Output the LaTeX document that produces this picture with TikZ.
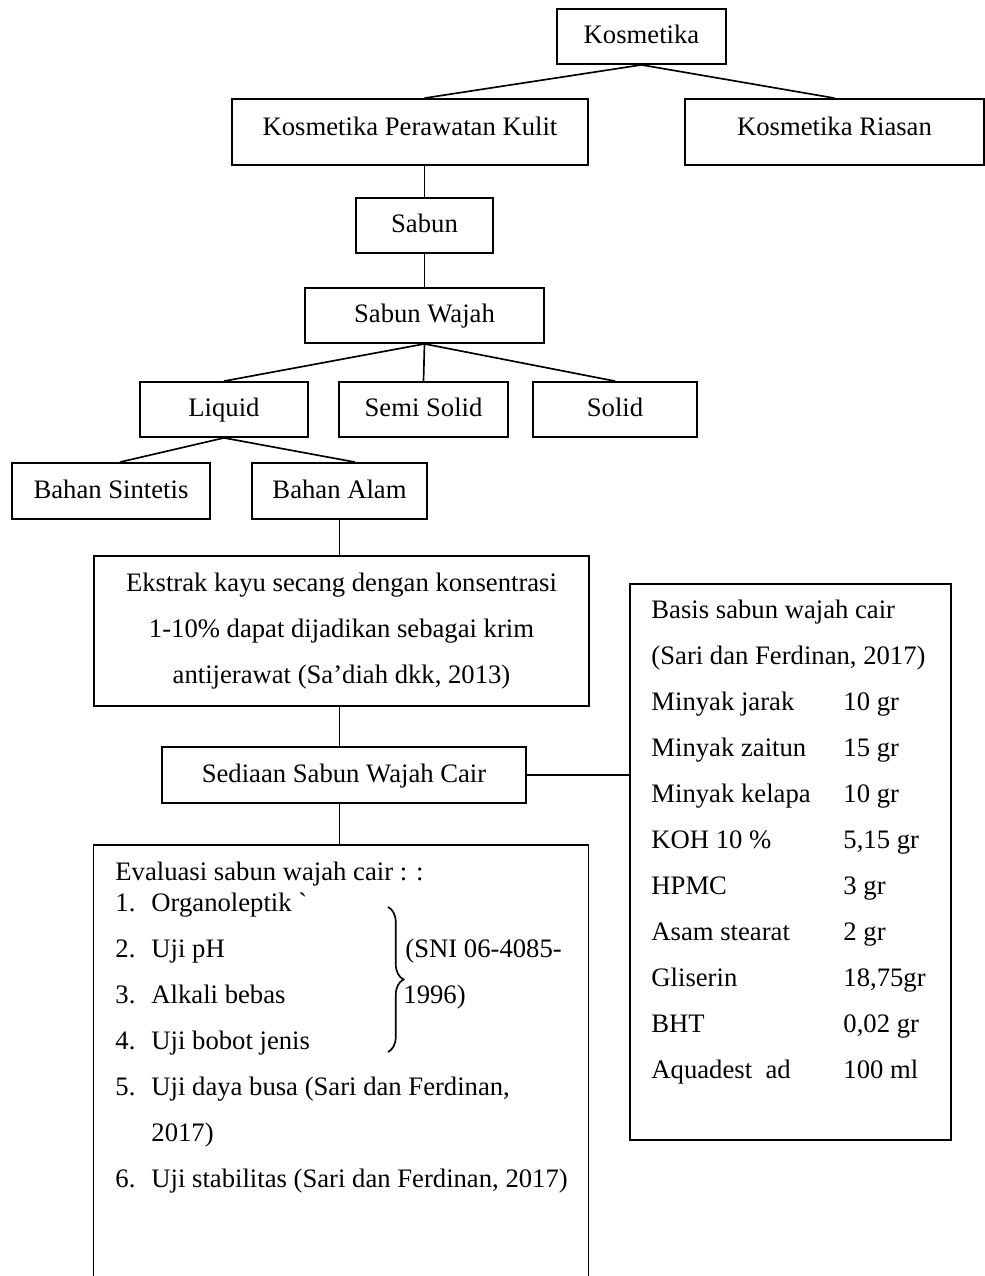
\documentclass[tikz,border=0pt]{standalone}
\usepackage{fontspec}
\setmainfont{Liberation Serif}
\usetikzlibrary{decorations.pathreplacing}
\tikzset{
  kotakbesar/.style={draw,line width=0.8pt,inner sep=0pt},
  kotak/.style={kotakbesar,text height=8pt,text depth=1.5pt},
  ukuran/.style 2 args={minimum width=#1*0.45pt,minimum height=#2*0.45pt},
  garis/.style={line width=0.75pt},
  teks/.style={anchor=base west,inner sep=0pt},
}
\begin{document}
\begin{tikzpicture}[x=0.45pt,y=-0.45pt,every node/.style={font=\fontsize{12}{20.7}\selectfont}]
\useasboundingbox (0,0) rectangle (985,1276);
% pohon kosmetika
\node[kotak,ukuran={169}{55}] (kosmetika) at (641.5,36.5) {Kosmetika};
\node[kotak,ukuran={356}{66},text depth=5pt] (perawatan) at (410,132) {Kosmetika Perawatan Kulit};
\node[kotak,ukuran={299}{66},text depth=5pt] (riasan) at (834.5,132) {Kosmetika Riasan};
\node[kotak,ukuran={137}{55}] (sabun) at (424.5,225.5) {Sabun};
\node[kotak,ukuran={239}{55}] (wajah) at (424.5,315.5) {Sabun Wajah};
\node[kotak,ukuran={168}{55}] (liquid) at (224,409.5) {Liquid};
\node[kotak,ukuran={169}{55}] (semisolid) at (423.5,409.5) {Semi Solid};
\node[kotak,ukuran={164}{55}] (solid) at (615,409.5) {Solid};
\node[kotak,ukuran={198}{56}] (sintetis) at (111,491) {Bahan Sintetis};
\node[kotak,ukuran={175}{56}] (alam) at (339.5,491) {Bahan Alam};
\node[kotakbesar,ukuran={495}{150},align=center] (ekstrak) at (341.5,631)
  {Ekstrak kayu secang dengan konsentrasi\\1-10\% dapat dijadikan sebagai krim\\antijerawat (Sa’diah dkk, 2013)};
\node[kotak,ukuran={364}{56}] (sediaan) at (344,775) {Sediaan Sabun Wajah Cair};
\node[kotakbesar,ukuran={321}{556}] (basis) at (790.5,862) {};
\node[inner sep=0pt,ukuran={494}{431},anchor=north] (evaluasi) at (341,845) {};
% garis penghubung
\draw[garis] (kosmetika.south) -- (perawatan.north -| sabun.north);
\draw[garis] (kosmetika.south) -- (riasan.north);
\draw[garis] (perawatan.south -| sabun.north) -- (sabun.north);
\draw[garis] (sabun.south) -- (wajah.north);
\draw[garis] (wajah.south) -- (liquid.north);
\draw[garis] (wajah.south) -- (semisolid.north);
\draw[garis] (wajah.south) -- (solid.north);
\draw[garis] (liquid.south) -- ([xshift=4pt]sintetis.north);
\draw[garis] (liquid.south) -- ([xshift=7pt]alam.north);
\draw[garis] (alam.south) -- (alam.south |- ekstrak.north);
\draw[garis] (alam.south |- ekstrak.south) -- (alam.south |- sediaan.north);
\draw[garis] (alam.south |- sediaan.south) -- (alam.south |- evaluasi.north);
\draw[garis] (sediaan.east) -- (sediaan.east -| basis.west);
\draw[line width=0.8pt] (evaluasi.south west) -- (evaluasi.north west)
  -- (evaluasi.north east) -- (evaluasi.south east);
% basis sabun
\node[teks] at (651,618) {Basis sabun wajah cair};
\node[teks] at (651,664) {(Sari dan Ferdinan, 2017)};
\foreach \bahan/\jumlah [count=\i] in {Minyak jarak/10 gr, Minyak zaitun/15 gr,
  Minyak kelapa/10 gr, KOH 10 \%/{5,15 gr}, HPMC/3 gr, Asam stearat/2 gr,
  Gliserin/{18,75gr}, BHT/{0,02 gr}, Aquadest\ \ ad/100 ml} {
  \node[teks] (bahan\i) at (651,{664+46*\i}) {\bahan};
  \node[teks] (jumlah\i) at (843,{664+46*\i}) {\jumlah};
}
% evaluasi
\node[teks] at (115,880) {Evaluasi sabun wajah cair : :};
\foreach \no/\y/\uji in {1/911/Organoleptik \textasciigrave, 2/957/Uji pH,
  3/1003/Alkali bebas, 4/1049/Uji bobot jenis,
  5/1095/{Uji daya busa (Sari dan Ferdinan,},
  6/1187/{Uji stabilitas (Sari dan Ferdinan, 2017)}} {
  \node[teks] (no\no) at (115,\y) {\no.};
  \node[teks] (uji\no) at (151,\y) {\uji};
}
\node[teks] (uji5b) at (151,1141) {2017)};
\draw[garis,decorate,decoration={brace,amplitude=7pt}] (388,907) -- (388,1052);
\node[teks] at (405,957) {(SNI 06-4085-};
\node[teks] at (403,1003) {1996)};
\end{tikzpicture}
\end{document}
